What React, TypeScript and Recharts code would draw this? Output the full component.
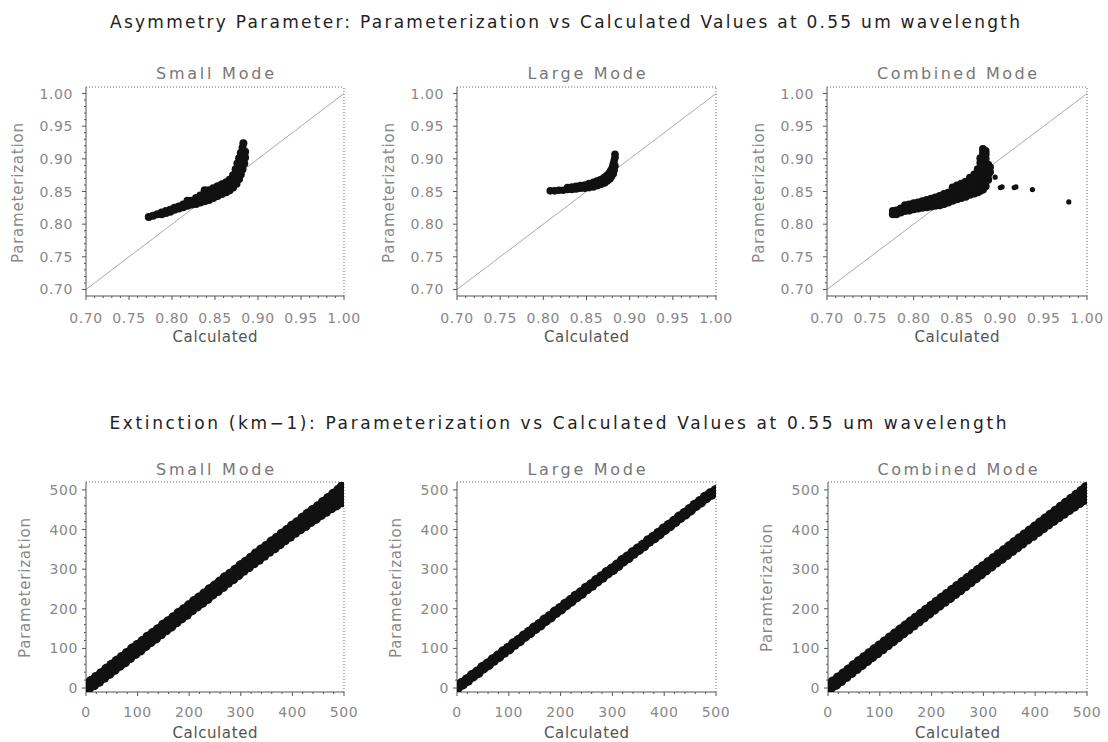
import React from "react";
import { ScatterChart, Scatter, XAxis, YAxis, ReferenceLine } from "recharts";

type Pt = [number, number];

// axis ticks
const asymMajor = [0.7, 0.75, 0.8, 0.85, 0.9, 0.95, 1.0];
const asymMinor = [0.71, 0.72, 0.73, 0.74, 0.76, 0.77, 0.78, 0.79, 0.81, 0.82, 0.83, 0.84, 0.86, 0.87, 0.88, 0.89, 0.91, 0.92, 0.93, 0.94, 0.96, 0.97, 0.98, 0.99];
const extMajor = [0, 100, 200, 300, 400, 500];
const extMinor = [20, 40, 60, 80, 120, 140, 160, 180, 220, 240, 260, 280, 320, 340, 360, 380, 420, 440, 460, 480];

const titles = [
  "Asymmetry Parameter: Parameterization vs Calculated Values at 0.55 um wavelength",
  "Extinction (km\u22121): Parameterization vs Calculated Values at 0.55 um wavelength",
];
const modes = ["Small Mode", "Large Mode", "Combined Mode"];

// asymmetry parameter, [calculated, parameterization]
const smallAsym: Pt[] = [
  [0.773, 0.811], [0.778, 0.813], [0.783, 0.815], [0.788, 0.818], [0.793, 0.820], [0.798, 0.822],
  [0.803, 0.825], [0.808, 0.827], [0.813, 0.830], [0.818, 0.833], [0.823, 0.836], [0.828, 0.840],
  [0.833, 0.844], [0.838, 0.849], [0.843, 0.852], [0.848, 0.855], [0.853, 0.858], [0.858, 0.861],
  [0.863, 0.864], [0.867, 0.868], [0.871, 0.875], [0.874, 0.884], [0.876, 0.893], [0.878, 0.901],
  [0.880, 0.909], [0.882, 0.917], [0.883, 0.924],
  [0.788, 0.815], [0.793, 0.817], [0.798, 0.819], [0.803, 0.822], [0.808, 0.824], [0.813, 0.826],
  [0.818, 0.828], [0.823, 0.830], [0.828, 0.831], [0.833, 0.833], [0.838, 0.835], [0.843, 0.837],
  [0.848, 0.840], [0.853, 0.843], [0.858, 0.846], [0.863, 0.849], [0.867, 0.852], [0.871, 0.856],
  [0.875, 0.862], [0.878, 0.869], [0.880, 0.876], [0.882, 0.884], [0.884, 0.893], [0.885, 0.902],
  [0.885, 0.911],
  [0.823, 0.833], [0.828, 0.836], [0.833, 0.838], [0.838, 0.842], [0.843, 0.844], [0.848, 0.847],
  [0.853, 0.850], [0.858, 0.853], [0.863, 0.856], [0.867, 0.859], [0.869, 0.862], [0.873, 0.868],
  [0.876, 0.876], [0.878, 0.884], [0.880, 0.893], [0.882, 0.901], [0.883, 0.910], [0.818, 0.836],
  [0.838, 0.852], [0.871, 0.865], [0.874, 0.873],
];

const largeAsym: Pt[] = [
  [0.808, 0.851], [0.813, 0.851], [0.818, 0.852], [0.823, 0.852], [0.828, 0.853], [0.833, 0.853],
  [0.838, 0.854], [0.843, 0.855], [0.848, 0.855], [0.853, 0.856], [0.858, 0.857], [0.863, 0.859],
  [0.867, 0.861], [0.871, 0.863], [0.874, 0.866], [0.877, 0.869], [0.879, 0.873],
  [0.828, 0.856], [0.833, 0.857], [0.838, 0.858], [0.843, 0.859], [0.848, 0.860], [0.853, 0.862],
  [0.858, 0.864], [0.862, 0.866], [0.866, 0.868], [0.870, 0.871], [0.873, 0.874], [0.876, 0.878],
  [0.878, 0.882], [0.880, 0.887], [0.881, 0.892], [0.882, 0.897], [0.883, 0.902], [0.883, 0.907],
  [0.881, 0.877], [0.882, 0.883], [0.883, 0.889],
];

const combinedAsym: Pt[] = [
  [0.776, 0.815], [0.776, 0.820], [0.780, 0.815], [0.780, 0.821], [0.785, 0.818], [0.785, 0.824],
  [0.790, 0.820], [0.790, 0.826], [0.790, 0.829], [0.795, 0.821], [0.795, 0.827], [0.795, 0.830],
  [0.800, 0.823], [0.800, 0.829], [0.800, 0.832], [0.805, 0.824], [0.805, 0.830], [0.805, 0.833],
  [0.810, 0.825], [0.810, 0.831], [0.810, 0.835], [0.815, 0.826], [0.815, 0.832], [0.815, 0.837],
  [0.820, 0.827], [0.820, 0.833], [0.820, 0.839], [0.825, 0.828], [0.825, 0.834], [0.825, 0.841],
  [0.830, 0.829], [0.830, 0.836], [0.830, 0.843], [0.835, 0.831], [0.835, 0.838], [0.835, 0.846],
  [0.840, 0.833], [0.840, 0.840], [0.840, 0.848],
  [0.845, 0.836], [0.845, 0.843], [0.845, 0.851], [0.845, 0.856],
  [0.850, 0.838], [0.850, 0.845], [0.850, 0.852], [0.850, 0.859],
  [0.855, 0.840], [0.855, 0.847], [0.855, 0.854], [0.855, 0.862],
  [0.860, 0.842], [0.860, 0.849], [0.860, 0.856], [0.860, 0.865],
  [0.865, 0.845], [0.865, 0.852], [0.865, 0.859], [0.865, 0.866], [0.865, 0.871],
  [0.870, 0.847], [0.870, 0.854], [0.870, 0.861], [0.870, 0.868], [0.870, 0.876],
  [0.874, 0.849], [0.874, 0.856], [0.874, 0.863], [0.874, 0.870], [0.874, 0.877], [0.874, 0.884],
  [0.877, 0.851], [0.877, 0.858], [0.877, 0.865], [0.877, 0.872], [0.877, 0.879], [0.877, 0.886],
  [0.877, 0.894], [0.877, 0.901],
  [0.880, 0.853], [0.880, 0.860], [0.880, 0.867], [0.880, 0.874], [0.880, 0.881], [0.880, 0.888],
  [0.880, 0.895], [0.880, 0.902], [0.880, 0.909], [0.880, 0.915],
  [0.883, 0.858], [0.883, 0.865], [0.883, 0.872], [0.883, 0.879], [0.883, 0.886], [0.883, 0.893],
  [0.883, 0.900], [0.883, 0.907], [0.883, 0.912],
  [0.886, 0.868], [0.886, 0.876], [0.886, 0.884], [0.886, 0.891], [0.888, 0.880], [0.888, 0.887],
];

const combinedOutliers: Pt[] = [
  [0.894, 0.872], [0.900, 0.856], [0.902, 0.857], [0.916, 0.856], [0.918, 0.857], [0.937, 0.853], [0.979, 0.834],
];

// extinction (km-1), [calculated, parameterization]
const smallExt: Pt[] = [
  [5, 0], [15, 8], [25, 17], [35, 27], [45, 37], [55, 47], [65, 57], [75, 66], [85, 77], [95, 87],
  [105, 96], [115, 107], [125, 117], [135, 126], [145, 137], [155, 147], [165, 156], [175, 167],
  [185, 177], [195, 186], [205, 197], [215, 207], [225, 216], [235, 226], [245, 237], [255, 246],
  [265, 256], [275, 267], [285, 276], [295, 286], [305, 297], [315, 306], [325, 316], [335, 325],
  [345, 335], [355, 345], [365, 354], [375, 364], [385, 374], [395, 383], [405, 393], [415, 402],
  [425, 410], [435, 420], [445, 428], [455, 438], [465, 446], [475, 455], [485, 462], [495, 470],
  [500, 478],
  [0, 6], [10, 17], [20, 27], [30, 37], [40, 48], [50, 58], [60, 68], [70, 78], [80, 88], [90, 99],
  [100, 108], [110, 118], [120, 129], [130, 138], [140, 148], [150, 159], [160, 168], [170, 178],
  [180, 189], [190, 198], [200, 208], [210, 219], [220, 228], [230, 238], [240, 249], [250, 258],
  [260, 268], [270, 279], [280, 288], [290, 298], [300, 309], [310, 318], [320, 328], [330, 339],
  [340, 349], [350, 358], [360, 369], [370, 378], [380, 389], [390, 398], [400, 409], [410, 418],
  [420, 429], [430, 439], [440, 449], [450, 458], [460, 469], [470, 479], [480, 490], [490, 500],
  [497, 508],
  [440, 435], [455, 448], [470, 466], [480, 475], [490, 486], [500, 495], [498, 488],
];

const largeExt: Pt[] = [
  [0, 2], [10, 11], [20, 20], [30, 31], [40, 40], [50, 51], [60, 60], [70, 71], [80, 80], [90, 91],
  [100, 100], [110, 111], [120, 120], [130, 131], [140, 140], [150, 151], [160, 160], [170, 171],
  [180, 180], [190, 191], [200, 200], [210, 211], [220, 220], [230, 231], [240, 240], [250, 251],
  [260, 260], [270, 271], [280, 280], [290, 291], [300, 300], [310, 310], [320, 321], [330, 330],
  [340, 341], [350, 350], [360, 360], [370, 371], [380, 380], [390, 390], [400, 401], [410, 410],
  [420, 420], [430, 431], [440, 440], [450, 450], [460, 461], [470, 470], [480, 481], [490, 490],
  [500, 497],
];

const combinedExt: Pt[] = [
  [5, 1], [15, 9], [25, 19], [35, 29], [45, 39], [55, 49], [65, 59], [75, 69], [85, 79], [95, 89],
  [105, 99], [115, 109], [125, 119], [135, 129], [145, 139], [155, 149], [165, 159], [175, 169],
  [185, 179], [195, 189], [205, 199], [215, 209], [225, 219], [235, 228], [245, 238], [255, 248],
  [265, 258], [275, 268], [285, 278], [295, 288], [305, 298], [315, 308], [325, 318], [335, 327],
  [345, 337], [355, 347], [365, 356], [375, 366], [385, 376], [395, 385], [405, 395], [415, 404],
  [425, 414], [435, 423], [445, 432], [455, 441], [465, 450], [475, 459], [485, 468], [495, 476],
  [500, 482],
  [0, 6], [10, 16], [20, 26], [30, 36], [40, 46], [50, 57], [60, 67], [70, 77], [80, 87], [90, 97],
  [100, 107], [110, 117], [120, 127], [130, 137], [140, 147], [150, 157], [160, 167], [170, 177],
  [180, 187], [190, 197], [200, 207], [210, 217], [220, 227], [230, 237], [240, 247], [250, 257],
  [260, 267], [270, 277], [280, 287], [290, 297], [300, 307], [310, 317], [320, 327], [330, 337],
  [340, 347], [350, 357], [360, 367], [370, 377], [380, 387], [390, 397], [400, 407], [410, 417],
  [420, 427], [430, 437], [440, 447], [450, 457], [460, 467], [470, 477], [480, 487], [490, 497],
  [498, 506],
  [460, 452], [475, 468], [488, 480], [500, 492],
];

const FONT = "'DejaVu Sans', sans-serif";
const TICK_COLOR = "#888";
const AXIS_COLOR = "#555";

const toXY = (pts: Pt[]) => pts.map(([x, y]) => ({ x, y }));
const isIn = (list: number[], v: number) => list.some((m) => Math.abs(m - v) < 1e-6);

const dot = (r: number) => (p: any) => <circle cx={p.cx} cy={p.cy} r={r} fill="#111" />;

type Series = { pts: Pt[]; r: number };

type PanelProps = {
  left: number;
  top: number;
  w: number;
  h: number;
  xDomain: [number, number];
  yDomain: [number, number];
  major: number[];
  minor: number[];
  fmt: (v: number) => string;
  series: Series[];
  diagonal?: boolean;
  xGap: number;
  yGap: number;
};

const Panel = ({ left, top, w, h, xDomain, yDomain, major, minor, fmt, series, diagonal, xGap, yGap }: PanelProps) => {
  const ticks = [...major, ...minor].sort((a, b) => a - b);

  const xTick = (p: any) => {
    const v = p.payload.value;
    const big = isIn(major, v);
    return (
      <g>
        <line x1={p.x} x2={p.x} y1={p.y} y2={p.y + (big ? 4 : 2)} stroke={AXIS_COLOR} />
        {big && (
          <text x={p.x} y={p.y + xGap} textAnchor="middle" dominantBaseline="central" fontSize={14} fill={TICK_COLOR} fontFamily={FONT} letterSpacing={0.6}>
            {fmt(v)}
          </text>
        )}
      </g>
    );
  };

  const yTick = (p: any) => {
    const v = p.payload.value;
    const big = isIn(major, v);
    return (
      <g>
        <line x1={p.x} x2={p.x - (big ? 4 : 2)} y1={p.y} y2={p.y} stroke={AXIS_COLOR} />
        {big && (
          <text x={p.x - yGap} y={p.y} textAnchor="end" dominantBaseline="central" fontSize={14} fill={TICK_COLOR} fontFamily={FONT} letterSpacing={0.6}>
            {fmt(v)}
          </text>
        )}
      </g>
    );
  };

  return (
    <div style={{ position: "absolute", left: left - 60, top: top - 10 }}>
      <ScatterChart width={w + 90} height={h + 40} margin={{ top: 10, right: 30, bottom: 0, left: 0 }}>
        <XAxis
          type="number"
          dataKey="x"
          domain={xDomain}
          allowDataOverflow
          ticks={ticks}
          interval={0}
          height={30}
          tickSize={0}
          tickMargin={0}
          tickLine={false}
          axisLine={{ stroke: AXIS_COLOR }}
          tick={xTick}
        />
        <YAxis
          type="number"
          dataKey="y"
          domain={yDomain}
          allowDataOverflow
          ticks={ticks.filter((t) => t >= yDomain[0] && t <= yDomain[1])}
          interval={0}
          width={60}
          tickSize={0}
          tickMargin={0}
          tickLine={false}
          axisLine={{ stroke: AXIS_COLOR }}
          tick={yTick}
        />
        <ReferenceLine y={yDomain[1]} stroke="#666" strokeDasharray="1 2" />
        <ReferenceLine x={xDomain[1]} stroke="#666" strokeDasharray="1 2" />
        {diagonal && (
          <ReferenceLine
            segment={[
              { x: xDomain[0], y: xDomain[0] },
              { x: xDomain[1], y: xDomain[1] },
            ]}
            stroke="#aaa"
          />
        )}
        {series.map((s, i) => (
          <Scatter key={i} data={toXY(s.pts)} shape={dot(s.r)} isAnimationActive={false} />
        ))}
      </ScatterChart>
    </div>
  );
};

type Txt = { x: number; y: number; text: string; len: number; size: number; color: string; rotate?: boolean };

const Label = ({ x, y, text, len, size, color, rotate }: Txt) => (
  <text
    x={x}
    y={y}
    textAnchor="middle"
    dominantBaseline="central"
    fontFamily={FONT}
    fontSize={size}
    fill={color}
    textLength={len}
    lengthAdjust="spacing"
    transform={rotate ? `rotate(-90 ${x} ${y})` : undefined}
  >
    {text}
  </text>
);

const topRow = [
  { left: 86, w: 258, series: [{ pts: smallAsym, r: 4 }] },
  { left: 457, w: 259, series: [{ pts: largeAsym, r: 3.8 }] },
  { left: 827, w: 260, series: [{ pts: combinedAsym, r: 4 }, { pts: combinedOutliers, r: 2.6 }] },
];

const bottomRow = [
  { left: 86, w: 258, series: [{ pts: smallExt, r: 5.5 }] },
  { left: 457, w: 259, series: [{ pts: largeExt, r: 6 }] },
  { left: 828, w: 259, series: [{ pts: combinedExt, r: 5.5 }] },
];

const yTitles = ["Parameterization", "Parameterization", "Paramterization"];

export default function App() {
  const labels: Txt[] = [
    { x: 565, y: 22, text: titles[0], len: 910, size: 17, color: "#222" },
    { x: 558, y: 423, text: titles[1], len: 897, size: 17, color: "#222" },
  ];
  topRow.forEach((p, i) => {
    const cx = p.left + p.w / 2;
    labels.push({ x: cx, y: 73, text: modes[i], len: i === 2 ? 160 : 118, size: 16, color: "#777" });
    labels.push({ x: cx, y: 337, text: "Calculated", len: 85, size: 15, color: "#555" });
    labels.push({ x: p.left - 68, y: 193, text: "Parameterization", len: 140, size: 15, color: "#888", rotate: true });
  });
  bottomRow.forEach((p, i) => {
    const cx = p.left + p.w / 2;
    labels.push({ x: cx, y: 469, text: modes[i], len: i === 2 ? 160 : 118, size: 16, color: "#777" });
    labels.push({ x: cx, y: 733, text: "Calculated", len: 85, size: 15, color: "#555" });
    labels.push({ x: p.left - 61, y: 588, text: yTitles[i], len: i === 2 ? 128 : 140, size: 15, color: "#888", rotate: true });
  });

  return (
    <div style={{ position: "absolute", left: 0, top: 0, width: 1108, height: 742, background: "#fff", overflow: "hidden" }}>
      {topRow.map((p, i) => (
        <Panel
          key={`a${i}`}
          left={p.left}
          top={87}
          w={p.w}
          h={209}
          xDomain={[0.7, 1.0]}
          yDomain={[0.69, 1.01]}
          major={asymMajor}
          minor={asymMinor}
          fmt={(v) => v.toFixed(2)}
          series={p.series}
          diagonal
          xGap={22}
          yGap={13}
        />
      ))}
      {bottomRow.map((p, i) => (
        <Panel
          key={`e${i}`}
          left={p.left}
          top={482}
          w={p.w}
          h={210}
          xDomain={[0, 500]}
          yDomain={[-10, 520]}
          major={extMajor}
          minor={extMinor}
          fmt={(v) => String(v)}
          series={p.series}
          xGap={20}
          yGap={8}
        />
      ))}
      <svg width={1108} height={742} style={{ position: "absolute", left: 0, top: 0, pointerEvents: "none" }}>
        {labels.map((l, i) => (
          <Label key={i} {...l} />
        ))}
      </svg>
    </div>
  );
}
